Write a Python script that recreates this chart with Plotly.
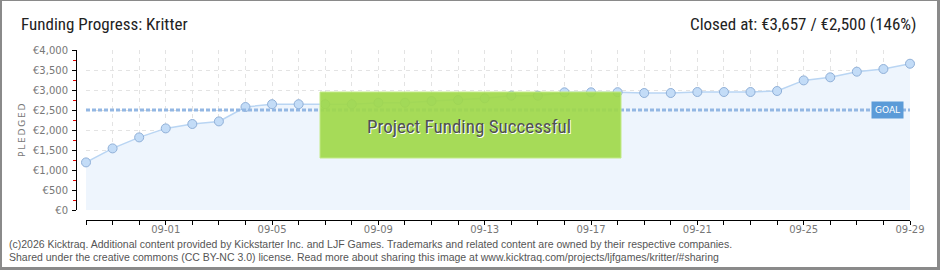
import plotly.graph_objects as go

# ---------------- data ----------------
dates = [
    "2025-08-29", "2025-08-30", "2025-08-31", "2025-09-01", "2025-09-02", "2025-09-03",
    "2025-09-04", "2025-09-05", "2025-09-06", "2025-09-07", "2025-09-08", "2025-09-09",
    "2025-09-10", "2025-09-11", "2025-09-12", "2025-09-13", "2025-09-14", "2025-09-15",
    "2025-09-16", "2025-09-17", "2025-09-18", "2025-09-19", "2025-09-20", "2025-09-21",
    "2025-09-22", "2025-09-23", "2025-09-24", "2025-09-25", "2025-09-26", "2025-09-27",
    "2025-09-28", "2025-09-29",
]
pledged = [
    1190, 1540, 1815, 2040, 2150, 2215,
    2575, 2645, 2645, 2645, 2645, 2683,
    2683, 2725, 2750, 2792, 2858, 2858,
    2942, 2942, 2945, 2925, 2925, 2950,
    2950, 2950, 2975, 3240, 3317, 3458,
    3525, 3657,
]
goal = 2500
y_tick_vals = [0, 500, 1000, 1500, 2000, 2500, 3000, 3500, 4000]
y_tick_text = ["€0", "€500", "€1,000", "€1,500", "€2,000", "€2,500", "€3,000", "€3,500", "€4,000"]

title_left = "Funding Progress: Kritter"
title_right = "Closed at: €3,657 / €2,500 (146%)"
overlay_text = "Project Funding Successful"
goal_label = "GOAL"
y_label = "P\u2009L\u2009E\u2009D\u2009G\u2009E\u2009D"
footer_lines = [
    "(c)2026 Kicktraq. Additional content provided by Kickstarter Inc. and LJF Games. "
    "Trademarks and related content are owned by their respective companies.",
    "Shared under the creative commons (CC BY-NC 3.0) license. Read more about sharing "
    "this image at www.kicktraq.com/projects/ljfgames/kritter/#sharing",
]

# ---------------- geometry ----------------
W, H = 940, 270
ML, MR, MT, MB = 76, 30, 50, 50
PW = W - ML - MR
PH = H - MT - MB


def px_x(p):
    return (p - ML) / PW


def px_y(p):
    return (H - MB - p) / PH


TITLE = "Liberation Sans Narrow, Roboto Condensed, Arial Narrow, Roboto, sans-serif"
FOOT = "Liberation Sans, Arial, sans-serif"
SMALL = "DejaVu Sans, Verdana, sans-serif"
DAY = 86400000

fig = go.Figure()

fig.add_trace(go.Scatter(
    x=dates, y=pledged, mode="lines+markers",
    line=dict(color="#b9d5f3", width=1.5),
    fill="tozeroy", fillcolor="#eef5fd",
    marker=dict(size=9, color="#c3dcf7", line=dict(color="#90b0d8", width=1)),
    cliponaxis=False, hoverinfo="skip", showlegend=False,
))

shapes = []
# goal line
shapes.append(dict(
    type="line", xref="x", yref="y", x0=dates[0], x1=dates[-1], y0=goal, y1=goal,
    line=dict(color="#93b7e3", width=3, dash="4px,2px"), layer="above",
))
# overlay box
shapes.append(dict(
    type="rect", xref="paper", yref="paper",
    x0=px_x(320), x1=px_x(621), y0=px_y(158), y1=px_y(92),
    fillcolor="rgba(160,216,74,0.92)", line=dict(color="#c2ea86", width=1), layer="above",
))
# frame
border = "#8a8a8a"
for (a, b, c, d) in [(0, 0, 2, H), (0, 0, W, 1), (W - 3, 0, W, H), (0, H - 3, W, H)]:
    shapes.append(dict(
        type="rect", xref="paper", yref="paper",
        x0=px_x(a), x1=px_x(c), y0=px_y(d), y1=px_y(b),
        fillcolor=border, line=dict(width=0), layer="above",
    ))

annotations = [
    dict(text=title_left, xref="paper", yref="paper", x=px_x(19), y=px_y(24),
         xanchor="left", yanchor="middle", showarrow=False,
         font=dict(family=TITLE, size=17, color="#222")),
    dict(text=title_right, xref="paper", yref="paper", x=px_x(919), y=px_y(24),
         xanchor="right", yanchor="middle", showarrow=False,
         font=dict(family=TITLE, size=17, color="#222")),
    dict(text=overlay_text, xref="paper", yref="paper", x=px_x(469), y=px_y(126),
         xanchor="center", yanchor="middle", showarrow=False,
         font=dict(family=TITLE, size=19, color="#505050", shadow="1px 1px 0px #ffffff")),
    dict(text=goal_label, xref="x", yref="y", x=dates[-1], y=goal,
         xanchor="right", yanchor="middle", xshift=-6, showarrow=False,
         bgcolor="#5b9bd8", borderpad=3,
         font=dict(family=SMALL, size=9, color="#ffffff")),
    dict(text=y_label, xref="paper", yref="paper", x=px_x(22), y=px_y(130),
         xanchor="center", yanchor="middle", textangle=-90, showarrow=False,
         font=dict(family=SMALL, size=9, color="#777")),
]
for i, line in enumerate(footer_lines):
    annotations.append(dict(
        text=line, xref="paper", yref="paper", x=px_x(7), y=px_y(244 + 12.5 * i),
        xanchor="left", yanchor="middle", showarrow=False,
        font=dict(family=FOOT, size=10.5, color="#555"),
    ))

grid = dict(gridcolor="#e3e3e3", griddash="4px,4px", gridwidth=1)

fig.update_layout(
    width=W, height=H,
    margin=dict(l=ML, r=MR, t=MT, b=MB),
    paper_bgcolor="#ffffff", plot_bgcolor="rgba(0,0,0,0)",
    shapes=shapes, annotations=annotations,
    xaxis=dict(
        type="date", range=[dates[0], dates[-1]],
        domain=[px_x(86), 1], anchor="free", position=0,
        tick0="2025-09-01", dtick=4 * DAY, tickformat="%m-%d",
        showline=True, linecolor="#000", linewidth=1,
        ticks="outside", ticklen=4, tickcolor="#000",
        tickfont=dict(family=SMALL, size=10, color="#777"),
        ticklabelstandoff=-4,
        showgrid=True, **grid,
        minor=dict(dtick=DAY, ticks="outside", ticklen=4, tickcolor="#000",
                   showgrid=True, **grid),
        zeroline=False, fixedrange=True,
    ),
    yaxis=dict(
        range=[0, 4000], domain=[px_y(210), 1], anchor="free", position=0,
        tickvals=y_tick_vals, ticktext=y_tick_text,
        showline=True, linecolor="#000", linewidth=1,
        ticks="outside", ticklen=4, tickcolor="#000",
        tickfont=dict(family=SMALL, size=10, color="#777"),
        ticklabelstandoff=2,
        showgrid=True, **grid,
        minor=dict(dtick=250, ticks="outside", ticklen=3, tickcolor="#e00000", showgrid=False),
        zeroline=False, fixedrange=True,
    ),
)

fig.write_html("out.html")
